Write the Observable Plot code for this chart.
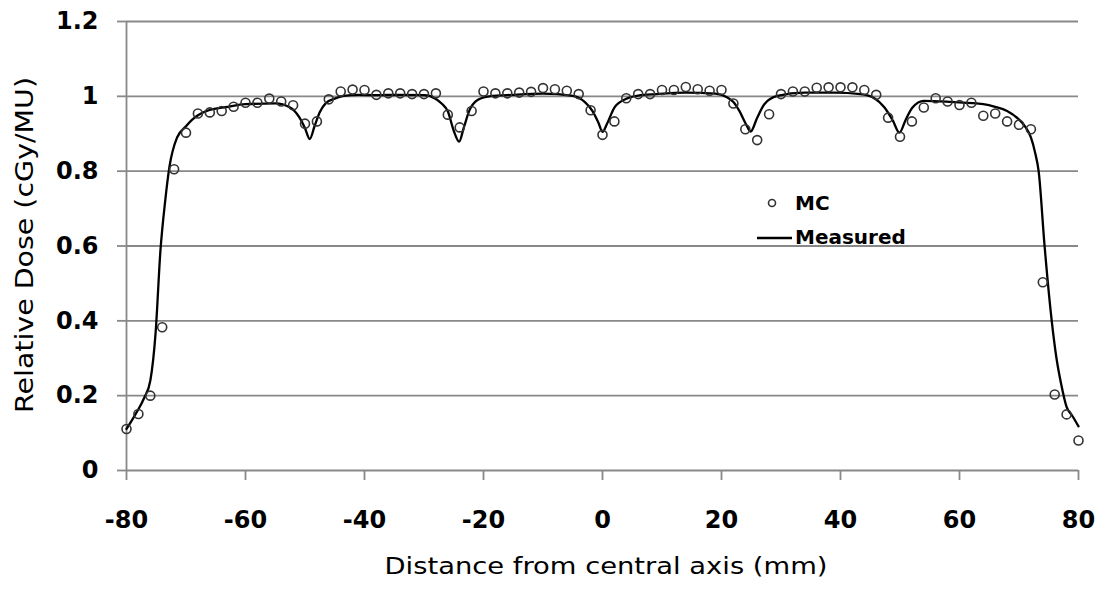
<!DOCTYPE html>
<html>
<head>
<meta charset="utf-8">
<script src="https://cdn.jsdelivr.net/npm/d3@7"></script>
<script src="https://cdn.jsdelivr.net/npm/@observablehq/plot@0.6"></script>
<style>
  html, body { margin: 0; padding: 0; background: #fff; }
  #chart svg { display: block; }
</style>
</head>
<body>
<div id="chart"></div>
<script>
// ---- data ----
const xTicks = [-80, -60, -40, -20, 0, 20, 40, 60, 80];
const yTicks = [0, 0.2, 0.4, 0.6, 0.8, 1, 1.2];
const yTickLabels = ["0", "0.2", "0.4", "0.6", "0.8", "1", "1.2"];

// Monte Carlo (MC) points
const mcX = [-80,-78,-76,-74,-72,-70,-68,-66,-64,-62,-60,-58,-56,-54,-52,-50,-48,-46,-44,-42,
  -40,-38,-36,-34,-32,-30,-28,-26,-24,-22,-20,-18,-16,-14,-12,-10,-8,-6,-4,-2,
  0,2,4,6,8,10,12,14,16,18,20,22,24,26,28,30,32,34,36,38,
  40,42,44,46,48,50,52,54,56,58,60,62,64,66,68,70,72,74,76,78,80];
const mcY = [0.111,0.151,0.200,0.383,0.805,0.903,0.954,0.957,0.961,0.972,0.983,0.983,0.994,0.986,0.976,0.927,0.933,0.992,1.013,1.018,
  1.017,1.004,1.008,1.008,1.006,1.006,1.008,0.951,0.917,0.961,1.013,1.008,1.008,1.010,1.012,1.022,1.019,1.015,1.006,0.963,
  0.897,0.933,0.995,1.006,1.006,1.017,1.017,1.025,1.019,1.015,1.017,0.981,0.912,0.883,0.952,1.006,1.013,1.013,1.023,1.024,
  1.024,1.024,1.017,1.004,0.943,0.892,0.933,0.970,0.995,0.986,0.977,0.983,0.948,0.954,0.933,0.924,0.912,0.503,0.203,0.150,0.080];

// Measured profile
const measX = [-80,-78.5,-77,-76,-75.1,-74.3,-73.5,-72.8,-71.5,-70,-69,-66.5,-63,-60,-55,-52.5,-51,-50,-49.2,-48.4,
  -47.5,-46.5,-45,-43.5,-41,-38,-34,-30,-28,-27,-26,-25,-24.1,-23.3,-22.4,-21,-19,-15,-10,-5,
  -3,-1.7,-0.7,0,0.8,2,3.9,6,9,14,19,21,22,23,24.1,24.9,26,27.2,29.4,34,
  39,43.4,45.7,47.4,48.8,49.9,51,52.1,54,58.6,64,66,68,70,71,72,72.7,73.3,74.3,75.5,
  76.3,77.1,78,79,80];
const measY = [0.111,0.150,0.195,0.240,0.370,0.587,0.720,0.810,0.890,0.920,0.937,0.961,0.972,0.979,0.981,0.970,0.945,0.915,0.886,0.920,
  0.958,0.982,0.994,1.001,1.004,1.003,1.004,1.003,0.993,0.980,0.960,0.908,0.879,0.917,0.961,0.990,1.000,1.004,1.007,1.001,
  0.985,0.961,0.930,0.905,0.928,0.970,0.993,1.002,1.006,1.010,1.007,0.997,0.985,0.961,0.926,0.906,0.943,0.979,1.001,1.010,
  1.010,1.006,0.995,0.970,0.935,0.903,0.939,0.970,0.988,0.985,0.979,0.972,0.961,0.938,0.920,0.890,0.850,0.800,0.600,0.400,
  0.300,0.230,0.170,0.145,0.118];

const mc = mcX.map((x, i) => ({x, y: mcY[i]}));
const measured = measX.map((x, i) => ({x, y: measY[i]}));

const FONT = "DejaVu Sans";
const GRID = "#888888";

const chart = Plot.plot({
  width: 1103,
  height: 596,
  marginLeft: 126,
  marginRight: 25,
  marginTop: 21,
  marginBottom: 126,
  style: {fontFamily: FONT, background: "#fff", color: "#000"},
  x: {domain: [-80, 80]},
  y: {domain: [0, 1.2]},
  marks: [
    Plot.gridY(yTicks.filter(d => d > 0), {stroke: GRID, strokeOpacity: 1, strokeWidth: 1.8}),
    Plot.ruleY([0], {stroke: GRID, strokeWidth: 1.8}),
    Plot.ruleX([-80], {stroke: GRID, strokeWidth: 1.8}),
    Plot.axisY(yTicks, {
      tickSize: 9, tickPadding: 19, stroke: GRID, strokeWidth: 1.8,
      tickFormat: d => yTickLabels[yTicks.indexOf(d)],
      fontSize: 24, fontWeight: "bold", fill: "#000", label: null
    }),
    Plot.axisX(xTicks, {
      tickSize: 10, tickPadding: 30, stroke: GRID, strokeWidth: 1.8,
      tickFormat: d => String(d),
      fontSize: 24, fontWeight: "bold", fill: "#000", label: null
    }),
    Plot.line(measured, {x: "x", y: "y", curve: "monotone-x", stroke: "#000", strokeWidth: 2.3}),
    Plot.dot(mc, {x: "x", y: "y", r: 4.5, stroke: "#333", strokeWidth: 1.6, fill: "none"})
  ]
});

document.getElementById("chart").appendChild(chart);

// axis titles and legend
const svg = d3.select(chart);
svg.append("text")
  .attr("x", 606).attr("y", 574)
  .attr("text-anchor", "middle")
  .attr("font-family", FONT).attr("font-size", 23)
  .attr("textLength", 443).attr("lengthAdjust", "spacingAndGlyphs")
  .attr("fill", "#000")
  .text("Distance from central axis (mm)");
svg.append("text")
  .attr("transform", "translate(33,245) rotate(-90)")
  .attr("text-anchor", "middle")
  .attr("font-family", FONT).attr("font-size", 25)
  .attr("textLength", 336).attr("lengthAdjust", "spacingAndGlyphs")
  .attr("fill", "#000")
  .text("Relative Dose (cGy/MU)");

const leg = svg.append("g")
  .attr("font-family", FONT).attr("font-weight", "bold").attr("font-size", 20)
  .attr("text-anchor", "start");
leg.append("circle").attr("cx", 772).attr("cy", 203).attr("r", 3.5)
  .attr("fill", "none").attr("stroke", "#333").attr("stroke-width", 1.6);
leg.append("text").attr("x", 795).attr("y", 203).attr("dy", "0.36em").text("MC");
leg.append("line").attr("x1", 757).attr("x2", 792).attr("y1", 238).attr("y2", 238)
  .attr("stroke", "#000").attr("stroke-width", 2.3);
leg.append("text").attr("x", 795).attr("y", 237).attr("dy", "0.36em").text("Measured");
</script>
</body>
</html>
